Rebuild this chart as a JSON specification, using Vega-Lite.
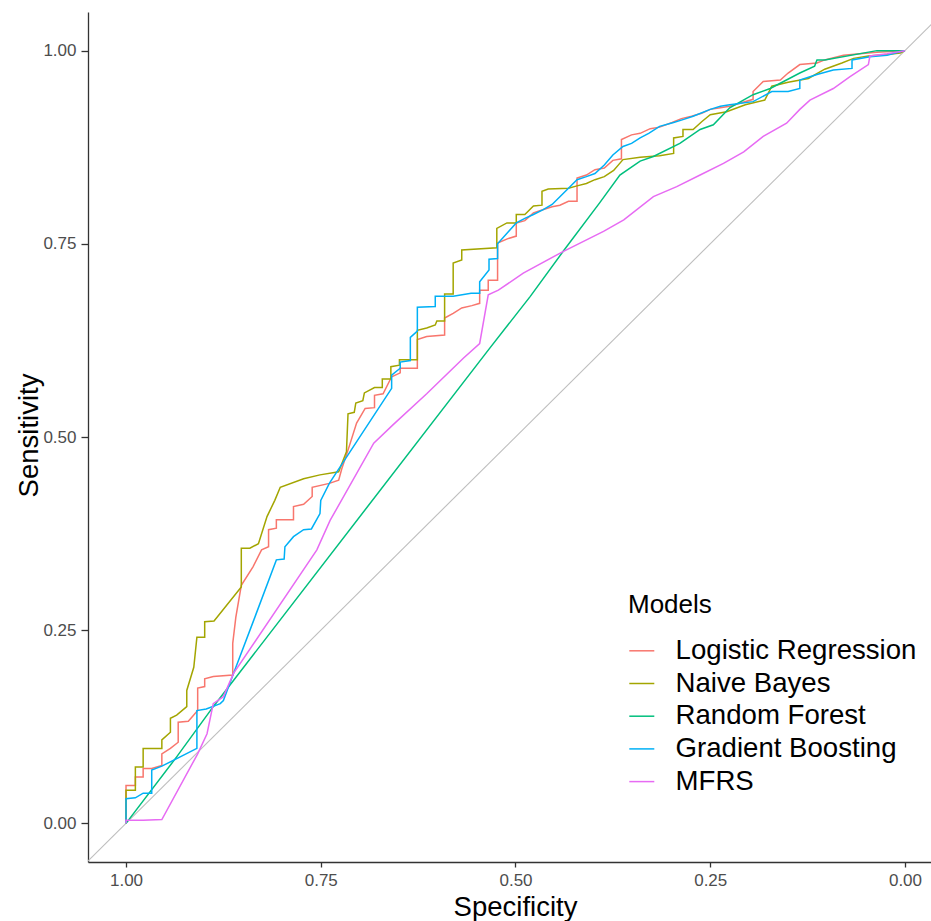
{
  "$schema": "https://vega.github.io/schema/vega-lite/v6.json",
  "width": 843,
  "height": 850,
  "autosize": {"type": "none"},
  "padding": {"left": 88, "top": 12, "right": 0, "bottom": 59},
  "background": "white",
  "config": {
    "view": {"stroke": null},
    "font": "Liberation Sans",
    "axis": {
      "grid": false,
      "domainColor": "#333333",
      "domainWidth": 1.3,
      "tickColor": "#333333",
      "tickWidth": 1.3,
      "tickSize": 5,
      "labelColor": "#4D4D4D",
      "labelFont": "Liberation Sans",
      "labelFontSize": 17,
      "labelPadding": 7,
      "titleFont": "Liberation Sans",
      "titleFontSize": 27.5,
      "titleFontWeight": "normal",
      "titleColor": "#000000"
    },
    "legend": {
      "titleFont": "Liberation Sans",
      "labelFont": "Liberation Sans"
    }
  },
  "encoding": {
    "x": {
      "field": "spec",
      "type": "quantitative",
      "scale": {"domain": [-0.0334, 1.0488], "reverse": true, "nice": false, "zero": false},
      "axis": {
        "title": "Specificity",
        "values": [0, 0.25, 0.5, 0.75, 1],
        "format": ".2f",
        "tickSize": 5,
        "labelPadding": 5,
        "titleX": 427,
        "titleY": 53,
        "titleBaseline": "alphabetic",
        "titleAnchor": null
      }
    },
    "y": {
      "field": "sens",
      "type": "quantitative",
      "scale": {"domain": [-0.05, 1.05], "nice": false, "zero": false},
      "axis": {
        "title": "Sensitivity",
        "values": [0, 0.25, 0.5, 0.75, 1],
        "format": ".2f",
        "tickSize": 7,
        "labelPadding": 5,
        "titleX": -51,
        "titleY": 423,
        "titleAngle": -90,
        "titleAlign": "center",
        "titleBaseline": "alphabetic"
      }
    }
  },
  "layer": [
    {
      "data": {"values": [{"spec": 1.05, "sens": -0.05}, {"spec": -0.05, "sens": 1.05}]},
      "mark": {"type": "line", "color": "#BEBEBE", "strokeWidth": 1.1, "clip": true},
      "encoding": {
        "order": {"field": "sens", "type": "quantitative"}
      }
    },
    {
      "data": {"values": [
        {"model":"Logistic Regression","spec":1,"sens":0},
        {"model":"Logistic Regression","spec":1,"sens":0.049},
        {"model":"Logistic Regression","spec":0.988,"sens":0.049},
        {"model":"Logistic Regression","spec":0.988,"sens":0.06},
        {"model":"Logistic Regression","spec":0.978,"sens":0.06},
        {"model":"Logistic Regression","spec":0.978,"sens":0.071},
        {"model":"Logistic Regression","spec":0.967,"sens":0.071},
        {"model":"Logistic Regression","spec":0.954,"sens":0.075},
        {"model":"Logistic Regression","spec":0.954,"sens":0.09},
        {"model":"Logistic Regression","spec":0.943,"sens":0.097},
        {"model":"Logistic Regression","spec":0.933,"sens":0.105},
        {"model":"Logistic Regression","spec":0.933,"sens":0.131},
        {"model":"Logistic Regression","spec":0.92,"sens":0.132},
        {"model":"Logistic Regression","spec":0.908,"sens":0.146},
        {"model":"Logistic Regression","spec":0.908,"sens":0.175},
        {"model":"Logistic Regression","spec":0.899,"sens":0.177},
        {"model":"Logistic Regression","spec":0.899,"sens":0.187},
        {"model":"Logistic Regression","spec":0.888,"sens":0.19},
        {"model":"Logistic Regression","spec":0.863,"sens":0.192},
        {"model":"Logistic Regression","spec":0.863,"sens":0.233},
        {"model":"Logistic Regression","spec":0.859,"sens":0.267},
        {"model":"Logistic Regression","spec":0.852,"sens":0.308},
        {"model":"Logistic Regression","spec":0.837,"sens":0.332},
        {"model":"Logistic Regression","spec":0.826,"sens":0.354},
        {"model":"Logistic Regression","spec":0.817,"sens":0.358},
        {"model":"Logistic Regression","spec":0.817,"sens":0.38},
        {"model":"Logistic Regression","spec":0.807,"sens":0.382},
        {"model":"Logistic Regression","spec":0.807,"sens":0.393},
        {"model":"Logistic Regression","spec":0.785,"sens":0.393},
        {"model":"Logistic Regression","spec":0.785,"sens":0.41},
        {"model":"Logistic Regression","spec":0.772,"sens":0.413},
        {"model":"Logistic Regression","spec":0.761,"sens":0.423},
        {"model":"Logistic Regression","spec":0.761,"sens":0.435},
        {"model":"Logistic Regression","spec":0.739,"sens":0.44},
        {"model":"Logistic Regression","spec":0.727,"sens":0.444},
        {"model":"Logistic Regression","spec":0.723,"sens":0.459},
        {"model":"Logistic Regression","spec":0.715,"sens":0.483},
        {"model":"Logistic Regression","spec":0.704,"sens":0.518},
        {"model":"Logistic Regression","spec":0.693,"sens":0.537},
        {"model":"Logistic Regression","spec":0.681,"sens":0.538},
        {"model":"Logistic Regression","spec":0.681,"sens":0.554},
        {"model":"Logistic Regression","spec":0.67,"sens":0.556},
        {"model":"Logistic Regression","spec":0.659,"sens":0.578},
        {"model":"Logistic Regression","spec":0.648,"sens":0.583},
        {"model":"Logistic Regression","spec":0.648,"sens":0.589},
        {"model":"Logistic Regression","spec":0.626,"sens":0.589},
        {"model":"Logistic Regression","spec":0.626,"sens":0.626},
        {"model":"Logistic Regression","spec":0.614,"sens":0.63},
        {"model":"Logistic Regression","spec":0.591,"sens":0.632},
        {"model":"Logistic Regression","spec":0.591,"sens":0.654},
        {"model":"Logistic Regression","spec":0.58,"sens":0.66},
        {"model":"Logistic Regression","spec":0.569,"sens":0.667},
        {"model":"Logistic Regression","spec":0.556,"sens":0.67},
        {"model":"Logistic Regression","spec":0.546,"sens":0.673},
        {"model":"Logistic Regression","spec":0.546,"sens":0.69},
        {"model":"Logistic Regression","spec":0.535,"sens":0.69},
        {"model":"Logistic Regression","spec":0.535,"sens":0.703},
        {"model":"Logistic Regression","spec":0.523,"sens":0.703},
        {"model":"Logistic Regression","spec":0.523,"sens":0.751},
        {"model":"Logistic Regression","spec":0.509,"sens":0.757},
        {"model":"Logistic Regression","spec":0.499,"sens":0.76},
        {"model":"Logistic Regression","spec":0.499,"sens":0.777},
        {"model":"Logistic Regression","spec":0.488,"sens":0.78},
        {"model":"Logistic Regression","spec":0.477,"sens":0.79},
        {"model":"Logistic Regression","spec":0.465,"sens":0.794},
        {"model":"Logistic Regression","spec":0.453,"sens":0.798},
        {"model":"Logistic Regression","spec":0.443,"sens":0.8},
        {"model":"Logistic Regression","spec":0.432,"sens":0.805},
        {"model":"Logistic Regression","spec":0.421,"sens":0.805},
        {"model":"Logistic Regression","spec":0.421,"sens":0.835},
        {"model":"Logistic Regression","spec":0.409,"sens":0.839},
        {"model":"Logistic Regression","spec":0.398,"sens":0.846},
        {"model":"Logistic Regression","spec":0.386,"sens":0.848},
        {"model":"Logistic Regression","spec":0.375,"sens":0.858},
        {"model":"Logistic Regression","spec":0.364,"sens":0.86},
        {"model":"Logistic Regression","spec":0.364,"sens":0.885},
        {"model":"Logistic Regression","spec":0.351,"sens":0.891},
        {"model":"Logistic Regression","spec":0.34,"sens":0.893},
        {"model":"Logistic Regression","spec":0.327,"sens":0.899},
        {"model":"Logistic Regression","spec":0.315,"sens":0.901},
        {"model":"Logistic Regression","spec":0.299,"sens":0.907},
        {"model":"Logistic Regression","spec":0.287,"sens":0.912},
        {"model":"Logistic Regression","spec":0.274,"sens":0.915},
        {"model":"Logistic Regression","spec":0.261,"sens":0.919},
        {"model":"Logistic Regression","spec":0.25,"sens":0.924},
        {"model":"Logistic Regression","spec":0.237,"sens":0.926},
        {"model":"Logistic Regression","spec":0.225,"sens":0.928},
        {"model":"Logistic Regression","spec":0.195,"sens":0.937},
        {"model":"Logistic Regression","spec":0.195,"sens":0.947},
        {"model":"Logistic Regression","spec":0.182,"sens":0.96},
        {"model":"Logistic Regression","spec":0.16,"sens":0.962},
        {"model":"Logistic Regression","spec":0.15,"sens":0.971},
        {"model":"Logistic Regression","spec":0.135,"sens":0.982},
        {"model":"Logistic Regression","spec":0.113,"sens":0.984},
        {"model":"Logistic Regression","spec":0.103,"sens":0.988},
        {"model":"Logistic Regression","spec":0.079,"sens":0.994},
        {"model":"Logistic Regression","spec":0.058,"sens":0.996},
        {"model":"Logistic Regression","spec":0.036,"sens":0.998},
        {"model":"Logistic Regression","spec":0,"sens":1},

        {"model":"Naive Bayes","spec":1,"sens":0},
        {"model":"Naive Bayes","spec":1,"sens":0.043},
        {"model":"Naive Bayes","spec":0.988,"sens":0.043},
        {"model":"Naive Bayes","spec":0.988,"sens":0.073},
        {"model":"Naive Bayes","spec":0.978,"sens":0.073},
        {"model":"Naive Bayes","spec":0.978,"sens":0.097},
        {"model":"Naive Bayes","spec":0.954,"sens":0.097},
        {"model":"Naive Bayes","spec":0.954,"sens":0.108},
        {"model":"Naive Bayes","spec":0.943,"sens":0.118},
        {"model":"Naive Bayes","spec":0.943,"sens":0.136},
        {"model":"Naive Bayes","spec":0.935,"sens":0.14},
        {"model":"Naive Bayes","spec":0.922,"sens":0.151},
        {"model":"Naive Bayes","spec":0.922,"sens":0.172},
        {"model":"Naive Bayes","spec":0.913,"sens":0.202},
        {"model":"Naive Bayes","spec":0.909,"sens":0.241},
        {"model":"Naive Bayes","spec":0.899,"sens":0.241},
        {"model":"Naive Bayes","spec":0.899,"sens":0.261},
        {"model":"Naive Bayes","spec":0.887,"sens":0.262},
        {"model":"Naive Bayes","spec":0.852,"sens":0.306},
        {"model":"Naive Bayes","spec":0.852,"sens":0.356},
        {"model":"Naive Bayes","spec":0.841,"sens":0.356},
        {"model":"Naive Bayes","spec":0.83,"sens":0.362},
        {"model":"Naive Bayes","spec":0.819,"sens":0.397},
        {"model":"Naive Bayes","spec":0.809,"sens":0.418},
        {"model":"Naive Bayes","spec":0.802,"sens":0.435},
        {"model":"Naive Bayes","spec":0.772,"sens":0.446},
        {"model":"Naive Bayes","spec":0.751,"sens":0.451},
        {"model":"Naive Bayes","spec":0.727,"sens":0.455},
        {"model":"Naive Bayes","spec":0.717,"sens":0.481},
        {"model":"Naive Bayes","spec":0.715,"sens":0.53},
        {"model":"Naive Bayes","spec":0.707,"sens":0.532},
        {"model":"Naive Bayes","spec":0.705,"sens":0.544},
        {"model":"Naive Bayes","spec":0.696,"sens":0.547},
        {"model":"Naive Bayes","spec":0.694,"sens":0.557},
        {"model":"Naive Bayes","spec":0.681,"sens":0.564},
        {"model":"Naive Bayes","spec":0.671,"sens":0.564},
        {"model":"Naive Bayes","spec":0.671,"sens":0.575},
        {"model":"Naive Bayes","spec":0.66,"sens":0.575},
        {"model":"Naive Bayes","spec":0.66,"sens":0.591},
        {"model":"Naive Bayes","spec":0.649,"sens":0.593},
        {"model":"Naive Bayes","spec":0.649,"sens":0.6},
        {"model":"Naive Bayes","spec":0.626,"sens":0.6},
        {"model":"Naive Bayes","spec":0.626,"sens":0.638},
        {"model":"Naive Bayes","spec":0.614,"sens":0.641},
        {"model":"Naive Bayes","spec":0.603,"sens":0.645},
        {"model":"Naive Bayes","spec":0.601,"sens":0.65},
        {"model":"Naive Bayes","spec":0.591,"sens":0.65},
        {"model":"Naive Bayes","spec":0.591,"sens":0.685},
        {"model":"Naive Bayes","spec":0.58,"sens":0.685},
        {"model":"Naive Bayes","spec":0.58,"sens":0.725},
        {"model":"Naive Bayes","spec":0.569,"sens":0.729},
        {"model":"Naive Bayes","spec":0.569,"sens":0.742},
        {"model":"Naive Bayes","spec":0.524,"sens":0.745},
        {"model":"Naive Bayes","spec":0.524,"sens":0.77},
        {"model":"Naive Bayes","spec":0.511,"sens":0.777},
        {"model":"Naive Bayes","spec":0.499,"sens":0.777},
        {"model":"Naive Bayes","spec":0.499,"sens":0.788},
        {"model":"Naive Bayes","spec":0.488,"sens":0.788},
        {"model":"Naive Bayes","spec":0.477,"sens":0.799},
        {"model":"Naive Bayes","spec":0.466,"sens":0.8},
        {"model":"Naive Bayes","spec":0.466,"sens":0.818},
        {"model":"Naive Bayes","spec":0.458,"sens":0.821},
        {"model":"Naive Bayes","spec":0.432,"sens":0.822},
        {"model":"Naive Bayes","spec":0.421,"sens":0.825},
        {"model":"Naive Bayes","spec":0.409,"sens":0.828},
        {"model":"Naive Bayes","spec":0.398,"sens":0.833},
        {"model":"Naive Bayes","spec":0.386,"sens":0.837},
        {"model":"Naive Bayes","spec":0.374,"sens":0.845},
        {"model":"Naive Bayes","spec":0.362,"sens":0.859},
        {"model":"Naive Bayes","spec":0.34,"sens":0.862},
        {"model":"Naive Bayes","spec":0.315,"sens":0.864},
        {"model":"Naive Bayes","spec":0.297,"sens":0.867},
        {"model":"Naive Bayes","spec":0.297,"sens":0.887},
        {"model":"Naive Bayes","spec":0.285,"sens":0.889},
        {"model":"Naive Bayes","spec":0.285,"sens":0.898},
        {"model":"Naive Bayes","spec":0.272,"sens":0.898},
        {"model":"Naive Bayes","spec":0.261,"sens":0.908},
        {"model":"Naive Bayes","spec":0.25,"sens":0.917},
        {"model":"Naive Bayes","spec":0.229,"sens":0.921},
        {"model":"Naive Bayes","spec":0.205,"sens":0.93},
        {"model":"Naive Bayes","spec":0.18,"sens":0.936},
        {"model":"Naive Bayes","spec":0.171,"sens":0.954},
        {"model":"Naive Bayes","spec":0.15,"sens":0.959},
        {"model":"Naive Bayes","spec":0.124,"sens":0.964},
        {"model":"Naive Bayes","spec":0.103,"sens":0.976},
        {"model":"Naive Bayes","spec":0.081,"sens":0.984},
        {"model":"Naive Bayes","spec":0.066,"sens":0.99},
        {"model":"Naive Bayes","spec":0.047,"sens":0.993},
        {"model":"Naive Bayes","spec":0.023,"sens":0.995},
        {"model":"Naive Bayes","spec":0.006,"sens":0.997},
        {"model":"Naive Bayes","spec":0,"sens":1},

        {"model":"Random Forest","spec":1,"sens":0},
        {"model":"Random Forest","spec":0.935,"sens":0.086},
        {"model":"Random Forest","spec":0.888,"sens":0.151},
        {"model":"Random Forest","spec":0.533,"sens":0.615},
        {"model":"Random Forest","spec":0.481,"sens":0.682},
        {"model":"Random Forest","spec":0.439,"sens":0.74},
        {"model":"Random Forest","spec":0.392,"sens":0.803},
        {"model":"Random Forest","spec":0.366,"sens":0.839},
        {"model":"Random Forest","spec":0.34,"sens":0.857},
        {"model":"Random Forest","spec":0.323,"sens":0.863},
        {"model":"Random Forest","spec":0.289,"sens":0.88},
        {"model":"Random Forest","spec":0.263,"sens":0.898},
        {"model":"Random Forest","spec":0.246,"sens":0.904},
        {"model":"Random Forest","spec":0.225,"sens":0.926},
        {"model":"Random Forest","spec":0.195,"sens":0.943},
        {"model":"Random Forest","spec":0.173,"sens":0.951},
        {"model":"Random Forest","spec":0.135,"sens":0.971},
        {"model":"Random Forest","spec":0.116,"sens":0.98},
        {"model":"Random Forest","spec":0.113,"sens":0.988},
        {"model":"Random Forest","spec":0.103,"sens":0.988},
        {"model":"Random Forest","spec":0.036,"sens":1},
        {"model":"Random Forest","spec":0,"sens":1},

        {"model":"Gradient Boosting","spec":1,"sens":0},
        {"model":"Gradient Boosting","spec":1,"sens":0.032},
        {"model":"Gradient Boosting","spec":0.988,"sens":0.033},
        {"model":"Gradient Boosting","spec":0.978,"sens":0.039},
        {"model":"Gradient Boosting","spec":0.967,"sens":0.039},
        {"model":"Gradient Boosting","spec":0.967,"sens":0.069},
        {"model":"Gradient Boosting","spec":0.954,"sens":0.074},
        {"model":"Gradient Boosting","spec":0.909,"sens":0.097},
        {"model":"Gradient Boosting","spec":0.909,"sens":0.146},
        {"model":"Gradient Boosting","spec":0.897,"sens":0.148},
        {"model":"Gradient Boosting","spec":0.879,"sens":0.155},
        {"model":"Gradient Boosting","spec":0.875,"sens":0.159},
        {"model":"Gradient Boosting","spec":0.862,"sens":0.194},
        {"model":"Gradient Boosting","spec":0.836,"sens":0.263},
        {"model":"Gradient Boosting","spec":0.807,"sens":0.341},
        {"model":"Gradient Boosting","spec":0.797,"sens":0.342},
        {"model":"Gradient Boosting","spec":0.796,"sens":0.358},
        {"model":"Gradient Boosting","spec":0.785,"sens":0.371},
        {"model":"Gradient Boosting","spec":0.772,"sens":0.38},
        {"model":"Gradient Boosting","spec":0.762,"sens":0.381},
        {"model":"Gradient Boosting","spec":0.751,"sens":0.401},
        {"model":"Gradient Boosting","spec":0.75,"sens":0.418},
        {"model":"Gradient Boosting","spec":0.739,"sens":0.44},
        {"model":"Gradient Boosting","spec":0.659,"sens":0.563},
        {"model":"Gradient Boosting","spec":0.659,"sens":0.58},
        {"model":"Gradient Boosting","spec":0.648,"sens":0.589},
        {"model":"Gradient Boosting","spec":0.648,"sens":0.597},
        {"model":"Gradient Boosting","spec":0.635,"sens":0.599},
        {"model":"Gradient Boosting","spec":0.635,"sens":0.629},
        {"model":"Gradient Boosting","spec":0.626,"sens":0.637},
        {"model":"Gradient Boosting","spec":0.626,"sens":0.668},
        {"model":"Gradient Boosting","spec":0.603,"sens":0.669},
        {"model":"Gradient Boosting","spec":0.603,"sens":0.682},
        {"model":"Gradient Boosting","spec":0.58,"sens":0.682},
        {"model":"Gradient Boosting","spec":0.557,"sens":0.686},
        {"model":"Gradient Boosting","spec":0.546,"sens":0.686},
        {"model":"Gradient Boosting","spec":0.546,"sens":0.701},
        {"model":"Gradient Boosting","spec":0.534,"sens":0.716},
        {"model":"Gradient Boosting","spec":0.534,"sens":0.73},
        {"model":"Gradient Boosting","spec":0.523,"sens":0.731},
        {"model":"Gradient Boosting","spec":0.523,"sens":0.75},
        {"model":"Gradient Boosting","spec":0.499,"sens":0.777},
        {"model":"Gradient Boosting","spec":0.488,"sens":0.783},
        {"model":"Gradient Boosting","spec":0.477,"sens":0.788},
        {"model":"Gradient Boosting","spec":0.465,"sens":0.794},
        {"model":"Gradient Boosting","spec":0.453,"sens":0.801},
        {"model":"Gradient Boosting","spec":0.443,"sens":0.811},
        {"model":"Gradient Boosting","spec":0.432,"sens":0.822},
        {"model":"Gradient Boosting","spec":0.421,"sens":0.833},
        {"model":"Gradient Boosting","spec":0.409,"sens":0.837},
        {"model":"Gradient Boosting","spec":0.398,"sens":0.841},
        {"model":"Gradient Boosting","spec":0.386,"sens":0.852},
        {"model":"Gradient Boosting","spec":0.375,"sens":0.865},
        {"model":"Gradient Boosting","spec":0.362,"sens":0.876},
        {"model":"Gradient Boosting","spec":0.351,"sens":0.88},
        {"model":"Gradient Boosting","spec":0.34,"sens":0.887},
        {"model":"Gradient Boosting","spec":0.329,"sens":0.893},
        {"model":"Gradient Boosting","spec":0.315,"sens":0.902},
        {"model":"Gradient Boosting","spec":0.297,"sens":0.907},
        {"model":"Gradient Boosting","spec":0.284,"sens":0.911},
        {"model":"Gradient Boosting","spec":0.272,"sens":0.915},
        {"model":"Gradient Boosting","spec":0.25,"sens":0.924},
        {"model":"Gradient Boosting","spec":0.237,"sens":0.928},
        {"model":"Gradient Boosting","spec":0.225,"sens":0.93},
        {"model":"Gradient Boosting","spec":0.195,"sens":0.934},
        {"model":"Gradient Boosting","spec":0.171,"sens":0.947},
        {"model":"Gradient Boosting","spec":0.15,"sens":0.947},
        {"model":"Gradient Boosting","spec":0.135,"sens":0.951},
        {"model":"Gradient Boosting","spec":0.135,"sens":0.962},
        {"model":"Gradient Boosting","spec":0.113,"sens":0.969},
        {"model":"Gradient Boosting","spec":0.092,"sens":0.975},
        {"model":"Gradient Boosting","spec":0.068,"sens":0.977},
        {"model":"Gradient Boosting","spec":0.068,"sens":0.988},
        {"model":"Gradient Boosting","spec":0.045,"sens":0.992},
        {"model":"Gradient Boosting","spec":0.023,"sens":0.994},
        {"model":"Gradient Boosting","spec":0,"sens":1},

        {"model":"MFRS","spec":1,"sens":0},
        {"model":"MFRS","spec":1,"sens":0.004},
        {"model":"MFRS","spec":0.978,"sens":0.004},
        {"model":"MFRS","spec":0.954,"sens":0.005},
        {"model":"MFRS","spec":0.908,"sens":0.09},
        {"model":"MFRS","spec":0.896,"sens":0.116},
        {"model":"MFRS","spec":0.888,"sens":0.155},
        {"model":"MFRS","spec":0.875,"sens":0.164},
        {"model":"MFRS","spec":0.862,"sens":0.194},
        {"model":"MFRS","spec":0.755,"sens":0.354},
        {"model":"MFRS","spec":0.738,"sens":0.392},
        {"model":"MFRS","spec":0.682,"sens":0.492},
        {"model":"MFRS","spec":0.657,"sens":0.516},
        {"model":"MFRS","spec":0.614,"sens":0.556},
        {"model":"MFRS","spec":0.567,"sens":0.602},
        {"model":"MFRS","spec":0.546,"sens":0.621},
        {"model":"MFRS","spec":0.535,"sens":0.684},
        {"model":"MFRS","spec":0.522,"sens":0.69},
        {"model":"MFRS","spec":0.49,"sens":0.712},
        {"model":"MFRS","spec":0.439,"sens":0.74},
        {"model":"MFRS","spec":0.387,"sens":0.766},
        {"model":"MFRS","spec":0.361,"sens":0.781},
        {"model":"MFRS","spec":0.323,"sens":0.811},
        {"model":"MFRS","spec":0.293,"sens":0.824},
        {"model":"MFRS","spec":0.263,"sens":0.839},
        {"model":"MFRS","spec":0.233,"sens":0.854},
        {"model":"MFRS","spec":0.207,"sens":0.869},
        {"model":"MFRS","spec":0.182,"sens":0.889},
        {"model":"MFRS","spec":0.152,"sens":0.906},
        {"model":"MFRS","spec":0.135,"sens":0.924},
        {"model":"MFRS","spec":0.122,"sens":0.936},
        {"model":"MFRS","spec":0.092,"sens":0.951},
        {"model":"MFRS","spec":0.071,"sens":0.966},
        {"model":"MFRS","spec":0.047,"sens":0.982},
        {"model":"MFRS","spec":0.045,"sens":0.993},
        {"model":"MFRS","spec":0.023,"sens":0.996},
        {"model":"MFRS","spec":0,"sens":1}
      ]},
      "mark": {"type": "line", "strokeWidth": 1.5, "clip": true},
      "encoding": {
        "order": [
          {"field": "spec", "type": "quantitative", "sort": "descending"},
          {"field": "sens", "type": "quantitative", "sort": "ascending"}
        ],
        "color": {
          "field": "model",
          "type": "nominal",
          "scale": {
            "domain": ["Logistic Regression", "Naive Bayes", "Random Forest", "Gradient Boosting", "MFRS"],
            "range": ["#F8766D", "#A3A500", "#00BF7D", "#00B0F6", "#E76BF3"]
          },
          "legend": {
            "title": "Models",
            "orient": "none",
            "legendX": 540,
            "legendY": 580,
            "padding": 0,
            "titleFontSize": 26,
            "titleFontWeight": "normal",
            "titleColor": "#000000",
            "titlePadding": 19,
            "labelFontSize": 27.6,
            "labelColor": "#000000",
            "labelOffset": 20,
            "labelLimit": 400,
            "rowPadding": 3.7,
            "symbolType": "stroke",
            "symbolSize": 625,
            "symbolStrokeWidth": 1.5
          }
        }
      }
    }
  ]
}
